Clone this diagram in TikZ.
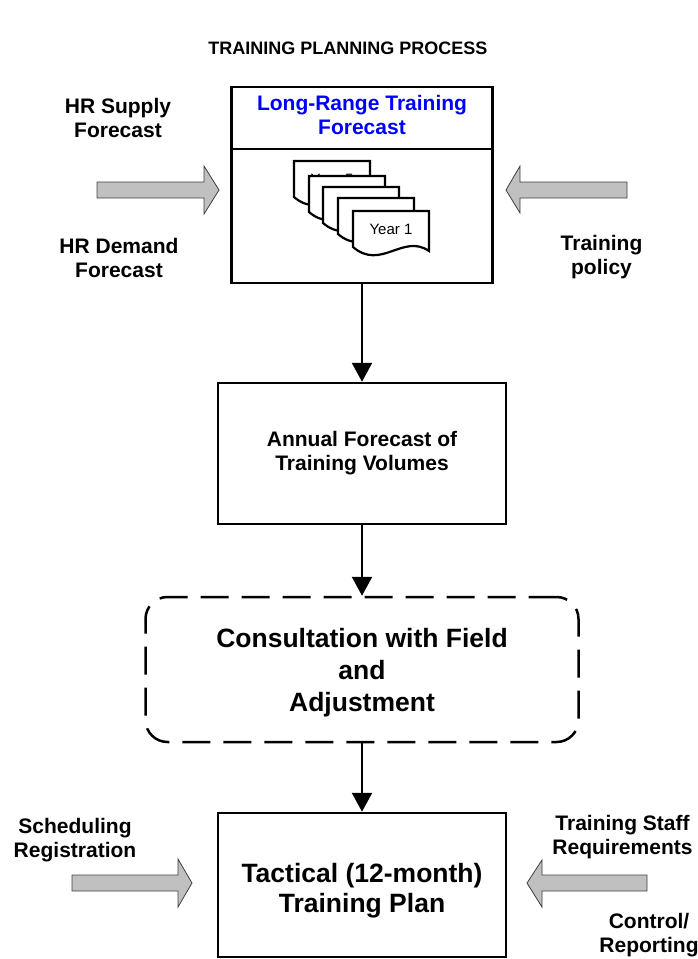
\documentclass[tikz,border=0pt]{standalone}
\usepackage{fontspec}
\setmainfont{Liberation Sans}
\usetikzlibrary{arrows.meta}
\definecolor{arrfill}{RGB}{192,192,192}
\definecolor{arrline}{RGB}{64,64,64}
\definecolor{hdrblue}{RGB}{0,0,255}
\begin{document}
\begin{tikzpicture}[x=1pt,y=-1pt,
  box/.style={draw, line width=2.5pt, inner sep=0pt, align=center},
  lbl/.style={font=\fontsize{21}{24}\selectfont\bfseries, align=center, inner sep=0pt},
  conn/.style={line width=2.5pt, -{Triangle[width=20pt,length=19pt]}},
  blockarrow/.style={fill=arrfill, draw=arrline, line width=0.8pt, line join=miter},
  docshape/.style={fill=white, draw=black, line width=2.2pt, line join=miter},
]
\useasboundingbox (0,0) rectangle (697,959);

% title
\node[font=\fontsize{18}{20}\selectfont\bfseries, anchor=base, inner sep=0pt] (title) at (348,54) {TRAINING PLANNING PROCESS};

% main boxes
\node[box, minimum width=261pt, minimum height=62pt, text=hdrblue,
      font=\fontsize{21}{24}\selectfont\bfseries] (lrhead) at (362,118)
      {\strut Long-Range Training\\\strut Forecast};
\node[box, minimum width=261pt, minimum height=134pt] (lrbody) at (362,216) {};
\node[box, minimum width=288pt, minimum height=141pt,
      font=\fontsize{21}{24}\selectfont\bfseries] (annual) at (362,453.5)
      {\strut Annual Forecast of\\\strut Training Volumes};
\node[box, dash pattern=on 28pt off 13pt, rounded corners=22pt,
      minimum width=433pt, minimum height=145pt,
      font=\fontsize{26.5}{32}\selectfont\bfseries] (consult) at (362,669.5)
      {\rule{0pt}{28.6pt}Consultation with Field\\\strut and\\\strut Adjustment};
\node[box, minimum width=288pt, minimum height=144pt,
      font=\fontsize{26.5}{30}\selectfont\bfseries] (tactical) at (362,885)
      {\rule{0pt}{33pt}Tactical (12-month)\\\strut Training Plan};

% documents stack
\foreach \n/\x/\y in {5/294/161,4/309/176,3/323/187,2/338/198,1/353/211}{
  \draw[docshape] ({\x},{\y}) -- ({\x+76},{\y}) -- ({\x+76},{\y+40})
     .. controls ({\x+50},{\y+22}) and ({\x+28},{\y+60}) .. ({\x},{\y+36}) -- cycle;
  \node[font=\fontsize{15}{18}\selectfont, anchor=base, inner sep=0pt] (year\n) at ({\x+38},{\y+23}) {Year \n};
}

% connectors
\draw[conn] (lrbody.south) -- (annual.north);
\draw[conn] (annual.south) -- (consult.north);
\draw[conn] (consult.south) -- (tactical.north);

% block arrows
\draw[blockarrow] (97,182) -- (204,182) -- (204,166) -- (219,190) -- (204,214) -- (204,198) -- (97,198) -- cycle;
\draw[blockarrow] (627,182) -- (520,182) -- (520,166) -- (506,190) -- (520,213) -- (520,198) -- (627,198) -- cycle;
\draw[blockarrow] (72,875) -- (178,875) -- (178,859) -- (192,883) -- (178,907) -- (178,891) -- (72,891) -- cycle;
\draw[blockarrow] (647,875) -- (542,875) -- (542,860) -- (527,883) -- (542,907) -- (542,891) -- (647,891) -- cycle;

% side labels
\node[lbl] (hrsupply) at (118,120.2) {\strut HR Supply\\\strut Forecast};
\node[lbl] (hrdemand) at (119,260.2) {\strut HR Demand\\\strut Forecast};
\node[lbl] (policy) at (601.5,257.2) {\strut Training\\\strut policy};
\node[lbl] (sched) at (75,840.2) {\strut Scheduling\\\strut Registration};
\node[lbl] (staff) at (622.5,837.2) {\strut Training Staff\\\strut Requirements};
\node[lbl] (control) at (649,935.2) {\strut Control/\\\strut Reporting};
\end{tikzpicture}
\end{document}
